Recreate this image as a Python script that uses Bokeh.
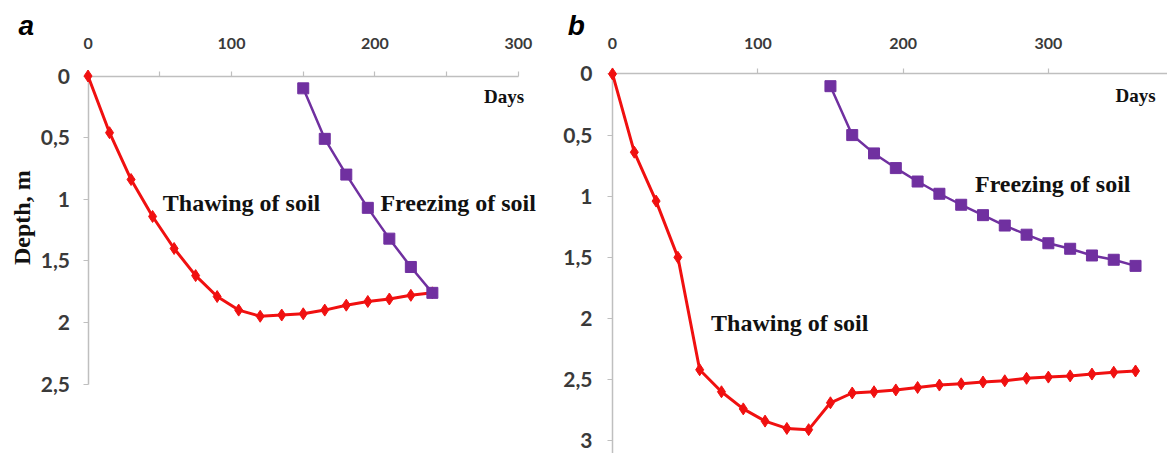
from bokeh.plotting import figure
from bokeh.layouts import row
from bokeh.models import Range1d, FixedTicker, CustomJSTickFormatter, Label
from bokeh.embed import file_html
from bokeh.resources import INLINE
import math

# ---- data (panel a) ----
a_thaw_days = [0, 15, 30, 45, 60, 75, 90, 105, 120, 135, 150, 165, 180, 195, 210, 225, 240]
a_thaw_depth = [0, 0.46, 0.84, 1.14, 1.40, 1.62, 1.79, 1.90, 1.95, 1.94, 1.93, 1.90, 1.86, 1.83, 1.81, 1.78, 1.76]
a_freeze_days = [150, 165, 180, 195, 210, 225, 240]
a_freeze_depth = [0.10, 0.51, 0.80, 1.07, 1.32, 1.55, 1.76]

# ---- data (panel b) ----
b_thaw_days = [0, 15, 30, 45, 60, 75, 90, 105, 120, 135, 150, 165, 180, 195, 210, 225,
               240, 255, 270, 285, 300, 315, 330, 345, 360]
b_thaw_depth = [0, 0.64, 1.04, 1.50, 2.42, 2.60, 2.74, 2.84, 2.90, 2.91, 2.69, 2.61, 2.60,
                2.585, 2.565, 2.545, 2.535, 2.52, 2.51, 2.49, 2.48, 2.47, 2.455, 2.44, 2.43]
b_freeze_days = [150, 165, 180, 195, 210, 225, 240, 255, 270, 285, 300, 315, 330, 345, 360]
b_freeze_depth = [0.10, 0.50, 0.65, 0.77, 0.88, 0.98, 1.07, 1.155, 1.24, 1.315, 1.385,
                  1.43, 1.485, 1.52, 1.57]

a_xticks = [0, 50, 100, 150, 200, 250, 300]
b_xticks = [0, 100, 200, 300]
a_yticks = [0, 0.5, 1, 1.5, 2, 2.5]
b_yticks = [0, 0.5, 1, 1.5, 2, 2.5, 3]

RED = "#f01010"
PURPLE = "#7030a0"
AXIS = "#bfbfbf"
TICKTXT = "#3a3a3a"
SERIF = "Liberation Serif"


def make_fig(w, h, xr, yr, xbounds, ybounds, xticks, yticks, xstand, ystand):
    p = figure(width=w, height=h, min_border=0, x_range=Range1d(*xr), y_range=Range1d(*yr),
               x_axis_location="above", output_backend="svg", toolbar_location=None)
    p.outline_line_color = None
    p.grid.visible = False
    p.background_fill_color = "white"
    p.border_fill_color = "white"
    xa, ya = p.xaxis[0], p.yaxis[0]
    xa.fixed_location = 0
    ya.fixed_location = 0
    xa.bounds = xbounds
    ya.bounds = ybounds
    for ax in (xa, ya):
        ax.level = "underlay"
        ax.axis_line_color = AXIS
        ax.axis_line_width = 1.5
        ax.major_tick_line_color = AXIS
        ax.major_tick_line_width = 1.2
        ax.major_tick_out = 5
        ax.major_tick_in = 0
        ax.minor_tick_line_color = None
        ax.major_label_text_font = "Lato"
        ax.major_label_text_font_style = "bold"
        ax.major_label_text_color = TICKTXT
    xa.ticker = FixedTicker(ticks=xticks)
    ya.ticker = FixedTicker(ticks=yticks)
    xa.formatter = CustomJSTickFormatter(
        code="return (tick % 100 == 0) ? String(tick) : '';")
    ya.formatter = CustomJSTickFormatter(
        code="return String(tick).replace('.', ',');")
    xa.major_label_text_font_size = "16px"
    ya.major_label_text_font_size = "21px"
    xa.major_label_standoff = xstand
    ya.major_label_standoff = ystand
    return p


def txt(p, x, y, s, size, angle=0.0, font=SERIF, style_="bold", color="#111111"):
    p.add_layout(Label(x=x, y=y, text=s, text_font=font, text_font_style=style_,
                       text_font_size=size, text_color=color, text_align="center",
                       text_baseline="middle", angle=angle, angle_units="rad"))


# ---------------- panel a ----------------
pa = make_fig(560, 453, (-61.0, 329.3), (3.064, -0.613), (0, 300), (0, 2.5),
              a_xticks, a_yticks, 22, 13)

pa.line(a_thaw_days, a_thaw_depth, line_color=RED, line_width=3)
pa.scatter(a_thaw_days, a_thaw_depth, marker="diamond", size=12, fill_color=RED,
           line_color=RED)
pa.line(a_freeze_days, a_freeze_depth, line_color=PURPLE, line_width=2.5)
pa.scatter(a_freeze_days, a_freeze_depth, marker="square", size=11, fill_color=PURPLE,
           line_color=PURPLE)

txt(pa, 107, 1.03, "Thawing of soil", "24px")
txt(pa, 258, 1.03, "Freezing of soil", "24px")
txt(pa, 290, 0.17, "Days", "19px")
txt(pa, -46, 1.15, "Depth, m", "24px", angle=math.pi / 2)
txt(pa, -43, -0.41, "a", "28px", font="Liberation Sans", style_="bold italic", color="black")

# ---------------- panel b ----------------
pb = make_fig(607, 453, (-35.8, 382.0), (3.105, -0.601), (0, 382.0), (0, 3.105),
              b_xticks, b_yticks, 20, 15)

pb.line(b_thaw_days, b_thaw_depth, line_color=RED, line_width=3)
pb.scatter(b_thaw_days, b_thaw_depth, marker="diamond", size=12, fill_color=RED,
           line_color=RED)
pb.line(b_freeze_days, b_freeze_depth, line_color=PURPLE, line_width=2.5)
pb.scatter(b_freeze_days, b_freeze_depth, marker="square", size=11, fill_color=PURPLE,
           line_color=PURPLE)

txt(pb, 303, 0.90, "Freezing of soil", "24px")
txt(pb, 122, 2.04, "Thawing of soil", "24px")
txt(pb, 360, 0.175, "Days", "19px")
txt(pb, -25, -0.40, "b", "28px", font="Liberation Sans", style_="bold italic", color="black")

layout = row(pa, pb)
open("out.html", "w").write(file_html(layout, INLINE))
